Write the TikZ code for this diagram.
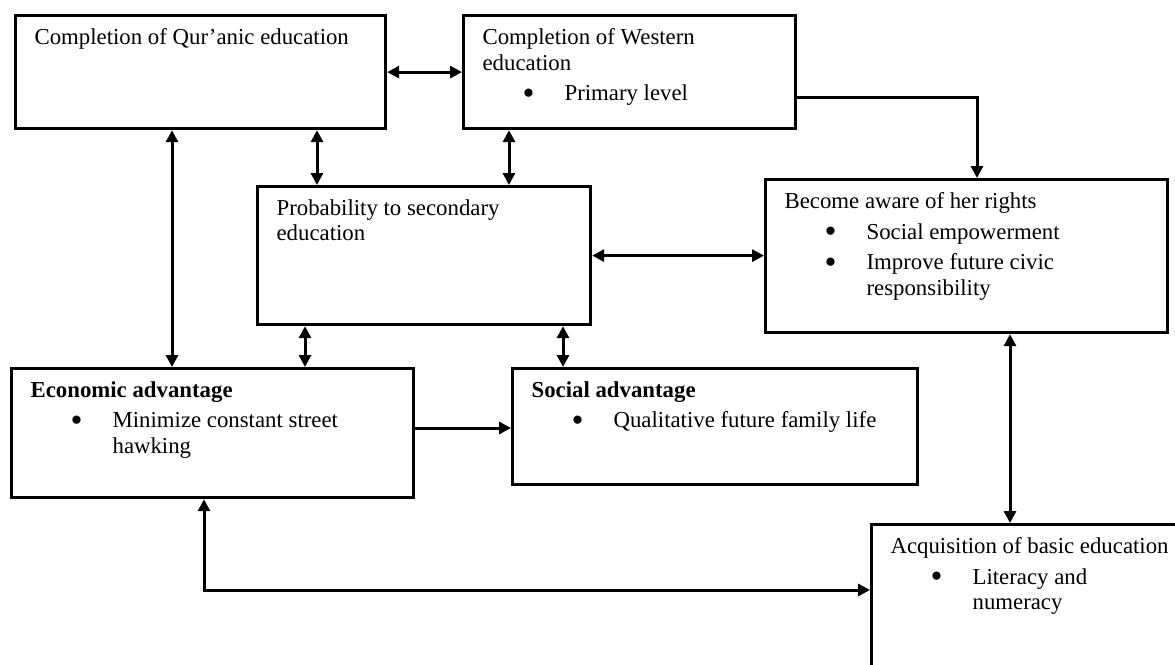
\documentclass[tikz,border=0pt]{standalone}
\usepackage{fontspec}
\setmainfont{Liberation Serif}
\usetikzlibrary{arrows.meta}

\tikzset{
  blk/.style={draw, line width=3.2pt, inner xsep=19pt, inner ysep=13pt, anchor=north west,
    font=\fontsize{22.8}{25.5}\selectfont},
  link/.style={line width=3pt, {Triangle[length=12pt,width=12pt]}-{Triangle[length=12pt,width=12pt]}},
  tolink/.style={line width=3pt, -{Triangle[length=12pt,width=12pt]}}
}
\newcommand{\blkbody}[3]{\parbox[c][#2][t]{#1}{\raggedright\setlength{\parskip}{5pt}#3}}
\newcommand{\bitem}[1]{\par\hangindent=82pt\hangafter=0\noindent\llap{\makebox[42pt][l]{\raisebox{-3.5pt}[0pt][0pt]{\scalebox{1.5}{\textbullet}}}}#1}

\begin{document}
\begin{tikzpicture}[x=1pt, y=-1pt]
    \useasboundingbox (0,0) rectangle (1175,664);
    \clip (0,0) rectangle (1175,664);

    % boxes
    \node[blk] (qur) at (14,14) {\blkbody{332pt}{87pt}{Completion of Qur’anic education}};
    \node[blk] (west) at (462,14) {\blkbody{294pt}{87pt}{Completion of Western\\education
        \bitem{Primary level}}};
    \node[blk] (prob) at (256,185) {\blkbody{295pt}{112pt}{Probability to secondary\\education}};
    \node[blk] (rights) at (764,178) {\blkbody{364pt}{127pt}{Become aware of her rights
        \bitem{Social empowerment}
        \bitem{Improve future civic\newline responsibility}}};
    \node[blk] (econ) at (10,367) {\blkbody{364pt}{103pt}{\textbf{Economic advantage}
        \bitem{Minimize constant street\newline hawking}}};
    \node[blk] (social) at (511,367) {\blkbody{367pt}{90pt}{\textbf{Social advantage}
        \bitem{Qualitative future family life}}};
    \node[blk] (basic) at (870,523) {\blkbody{300pt}{134pt}{Acquisition of basic education
        \bitem{Literacy and\newline numeracy}}};

    % connector positions
    \coordinate (xqe) at (172,0);
    \coordinate (xqp) at (317,0);
    \coordinate (xwp) at (509,0);
    \coordinate (xpe) at (305,0);
    \coordinate (xps) at (563,0);
    \coordinate (xwr) at (977,0);
    \coordinate (xrb) at (1010,0);
    \coordinate (xeb) at (204,0);
    \coordinate (ywr) at (0,97);
    \coordinate (yes) at (0,428);
    \coordinate (yeb) at (0,590);

    % connectors
    \draw[link] (qur) -- (west);
    \draw[tolink] (west.east |- ywr) -| (rights.north -| xwr);
    \draw[link] (qur.south -| xqe) -- (econ.north -| xqe);
    \draw[link] (qur.south -| xqp) -- (prob.north -| xqp);
    \draw[link] (west.south -| xwp) -- (prob.north -| xwp);
    \draw[link] (prob.east) -- (rights.west |- prob.east);
    \draw[link] (prob.south -| xpe) -- (econ.north -| xpe);
    \draw[link] (prob.south -| xps) -- (social.north -| xps);
    \draw[tolink] (econ.east |- yes) -- (social.west |- yes);
    \draw[link] (rights.south -| xrb) -- (basic.north -| xrb);
    \draw[link] (econ.south -| xeb) |- (basic.west |- yeb);
\end{tikzpicture}
\end{document}
